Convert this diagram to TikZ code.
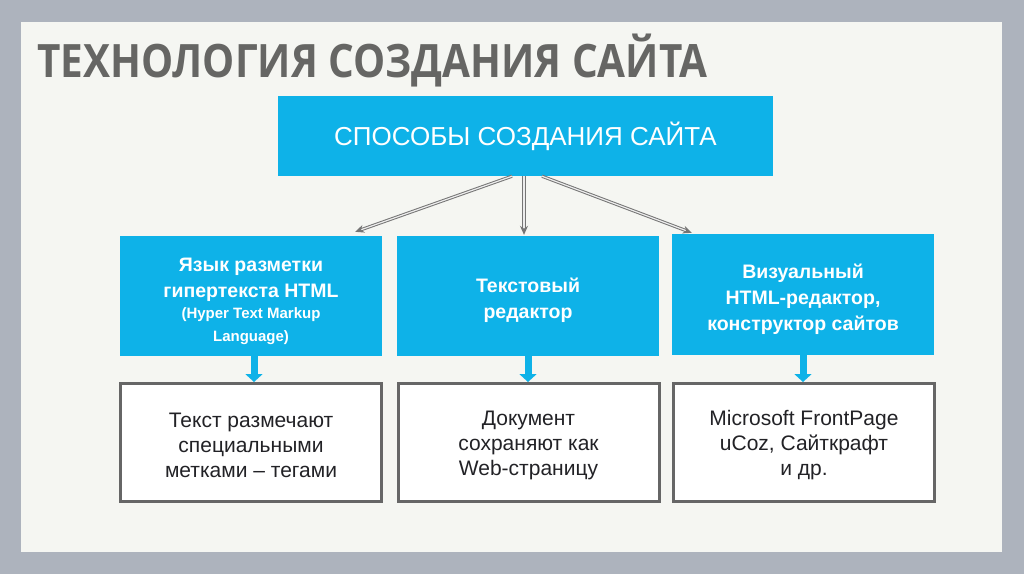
\documentclass[tikz,border=0pt]{standalone}
\usepackage{fontspec}
\setmainfont{Liberation Sans}
\newfontfamily\titlefont{Open Sans}[FakeStretch=0.88]
\usepackage{tikz}
\usetikzlibrary{arrows.meta, positioning, calc}
\definecolor{framegray}{RGB}{173, 179, 189}
\definecolor{panelwhite}{RGB}{245, 246, 242}
\definecolor{skyblue}{RGB}{14, 178, 232}
\definecolor{titlegray}{RGB}{102, 102, 100}
\definecolor{edgegray}{RGB}{102, 102, 102}
\definecolor{inkdark}{RGB}{34, 34, 38}

\begin{document}
\begin{tikzpicture}[x=1pt, y=-1pt,
  headbox/.style={fill=skyblue, text=white, minimum width=495pt, minimum height=80pt, inner sep=0pt, align=center, font=\fontsize{26}{30}\selectfont},
  waybox/.style={fill=skyblue, text=white, minimum width=262pt, minimum height=120pt, inner sep=0pt, text width=250pt, align=flush center, font=\bfseries\fontsize{19.5}{26}\selectfont, execute at begin node={\rule{0pt}{24pt}}},
  descbox/.style={draw=edgegray, line width=3pt, fill=white, text=inkdark, minimum width=261pt, minimum height=118pt, inner sep=0pt, text width=250pt, align=flush center, font=\fontsize{21}{25}\selectfont, execute at begin node={\rule{0pt}{20pt}}},
  pickarrow/.style={draw=edgegray!90, double=white!85!gray, double distance=1.2pt, line width=1pt, -{Stealth[length=9pt, width=8pt]}},
  downarrow/.style={draw=skyblue, line width=7pt, -{Triangle[length=8pt, width=17pt]}}
]
  \useasboundingbox (0,0) rectangle (1024,574);
  \fill[framegray] (0,0) rectangle (1024,574);
  \fill[panelwhite] (21,22) rectangle (1002,552);

  \node[anchor=base west, inner sep=0pt, text=titlegray, font=\titlefont\bfseries\fontsize{46}{50}\selectfont] (title) at (37,77) {ТЕХНОЛОГИЯ СОЗДАНИЯ САЙТА};

  \node[headbox] (ways) at (525.5,136) {СПОСОБЫ СОЗДАНИЯ САЙТА};

  \node[waybox] (html) at (251,296) {Язык разметки\\гипертекста HTML\\[-5pt]
    {\fontsize{15}{18}\selectfont (Hyper Text Markup}\\[-3pt]{\fontsize{15}{18}\selectfont Language)}};
  \node[waybox] (editor) at (528,296) {Текстовый\\редактор};
  \node[waybox, minimum height=121pt] (visual) at (803,294.5) {Визуальный\\HTML-редактор,\\конструктор сайтов};

  \node[descbox] (tags) at (251,442.5) {Текст размечают\\специальными\\метками -- тегами};
  \node[descbox] (webpage) at (528.5,442.5) {Документ\\сохраняют как\\Web-страницу};
  \node[descbox] (tools) at (804,442.5) {Microsoft FrontPage\\uCoz, Сайткрафт\\и др.};

  % arrows from the top box
  \draw[pickarrow] ($(ways.south)+(-13.5,0)$) -- ($(html.north east)+(-27,-4)$);
  \draw[pickarrow] ($(ways.south)+(-1.5,0)$) -- ($(editor.north)+(-4,-1)$);
  \draw[pickarrow] ($(ways.south)+(16.5,0)$) -- ($(visual.north west)+(20,-1)$);

  % arrows down to the notes
  \draw[downarrow] ($(html.south)+(3,0)$) -- ($(tags.north)+(3,0)$);
  \draw[downarrow] (editor.south) -- (editor.south |- webpage.north);
  \draw[downarrow] (visual.south) -- (visual.south |- tools.north);
\end{tikzpicture}
\end{document}
